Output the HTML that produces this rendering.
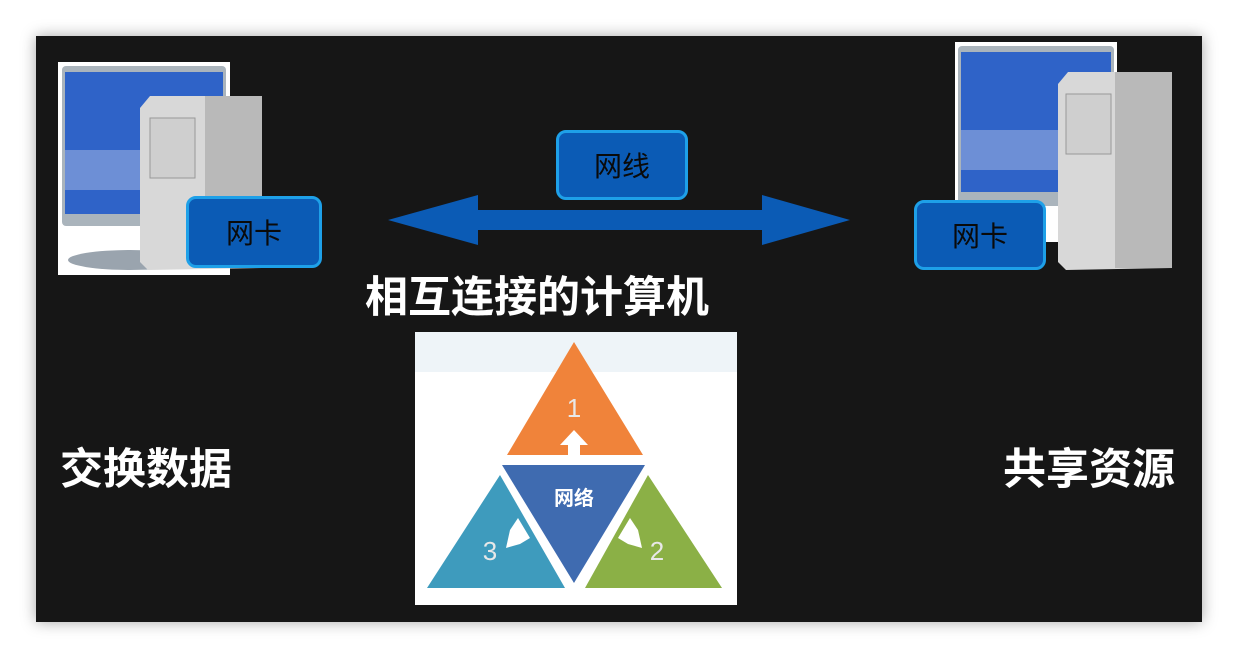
<!DOCTYPE html>
<html><head><meta charset="utf-8"><style>
body{margin:0;width:1238px;height:658px;background:#fff;position:relative;overflow:hidden;font-family:"Liberation Sans","Noto Sans CJK SC",sans-serif}
.slide{position:absolute;left:36px;top:36px;width:1166px;height:586px;background:#161616;box-shadow:0 0 14px rgba(0,0,0,.35)}
.lbl{position:absolute;background:#0b5bb5;border:3px solid #1ea0e8;border-radius:10px;color:#0a0a0a;font-size:28px;display:flex;align-items:center;justify-content:center;box-sizing:border-box}
.big{position:absolute;color:#fff;font-weight:bold;font-size:43px;line-height:48px;white-space:nowrap}
</style></head><body>
<div class="slide"></div>
<svg width="1238" height="658" style="position:absolute;left:0;top:0">
<g>
<rect x="58" y="62" width="172" height="213" fill="#fff"/>
<rect x="62" y="66" width="164" height="160" rx="4" fill="#aab4bc"/>
<rect x="65" y="72" width="158" height="142" fill="#2f63c8"/>
<rect x="65" y="150" width="158" height="40" fill="#6d8fd6"/>
<ellipse cx="130" cy="260" rx="62" ry="10" fill="#9aa4ae"/>
<polygon points="140,108 150,96 262,96 262,268 148,270 140,262" fill="#d8d8d8"/>
<polygon points="205,96 262,96 262,268 205,268" fill="#b9b9b9"/>
<rect x="150" y="118" width="45" height="60" fill="#cfcfcf" stroke="#999"/>
</g>
<g>
<rect x="955" y="42" width="162" height="200" fill="#fff"/>
<rect x="958" y="46" width="156" height="160" rx="4" fill="#aab4bc"/>
<rect x="961" y="52" width="150" height="140" fill="#2f63c8"/>
<rect x="961" y="130" width="150" height="40" fill="#6d8fd6"/>
<polygon points="1058,84 1068,72 1172,72 1172,268 1066,270 1058,262" fill="#d8d8d8"/>
<polygon points="1115,72 1172,72 1172,268 1115,268" fill="#b9b9b9"/>
<rect x="1066" y="94" width="45" height="60" fill="#cfcfcf" stroke="#999"/>
</g>
<polygon points="388,220 478,195 478,210 762,210 762,195 850,220 762,245 762,230 478,230 478,245" fill="#0b5bb5"/>
<g>
<rect x="415" y="332" width="322" height="273" fill="#fff"/>
<rect x="415" y="332" width="322" height="40" fill="#eef4f8"/>
<polygon points="574,342 643,455 507,455" fill="#f0833a"/>
<polygon points="502,465 645,465 574,583" fill="#3f6bb0"/>
<polygon points="500,475 565,588 427,588" fill="#3e9bbd"/>
<polygon points="648,475 722,588 585,588" fill="#8bb046"/>
<polygon points="574,430 588,445 580,445 580,462 568,462 568,445 560,445" fill="#fff"/>
<polygon points="518,518 530,538 520,544 506,548 510,530" fill="#fff"/>
<polygon points="630,518 618,538 628,544 642,548 638,530" fill="#fff"/>
<text x="574" y="417" font-size="26" fill="#e8e8e8" text-anchor="middle" font-family="Liberation Sans">1</text>
<text x="657" y="560" font-size="26" fill="#e8e8e8" text-anchor="middle" font-family="Liberation Sans">2</text>
<text x="490" y="560" font-size="26" fill="#e8e8e8" text-anchor="middle" font-family="Liberation Sans">3</text>
<text x="574" y="505" font-size="20" fill="#fff" text-anchor="middle" font-weight="bold" font-family="Liberation Sans,Noto Sans CJK SC,sans-serif">网络</text>
</g>
</svg>
<div class="lbl" style="left:186px;top:196px;width:136px;height:72px">网卡</div>
<div class="lbl" style="left:914px;top:200px;width:132px;height:70px">网卡</div>
<div class="lbl" style="left:556px;top:130px;width:132px;height:70px">网线</div>
<div class="big" style="left:365px;top:274px">相互连接的计算机</div>
<div class="big" style="left:60px;top:446px">交换数据</div>
<div class="big" style="left:1003px;top:446px">共享资源</div>
</body></html>
